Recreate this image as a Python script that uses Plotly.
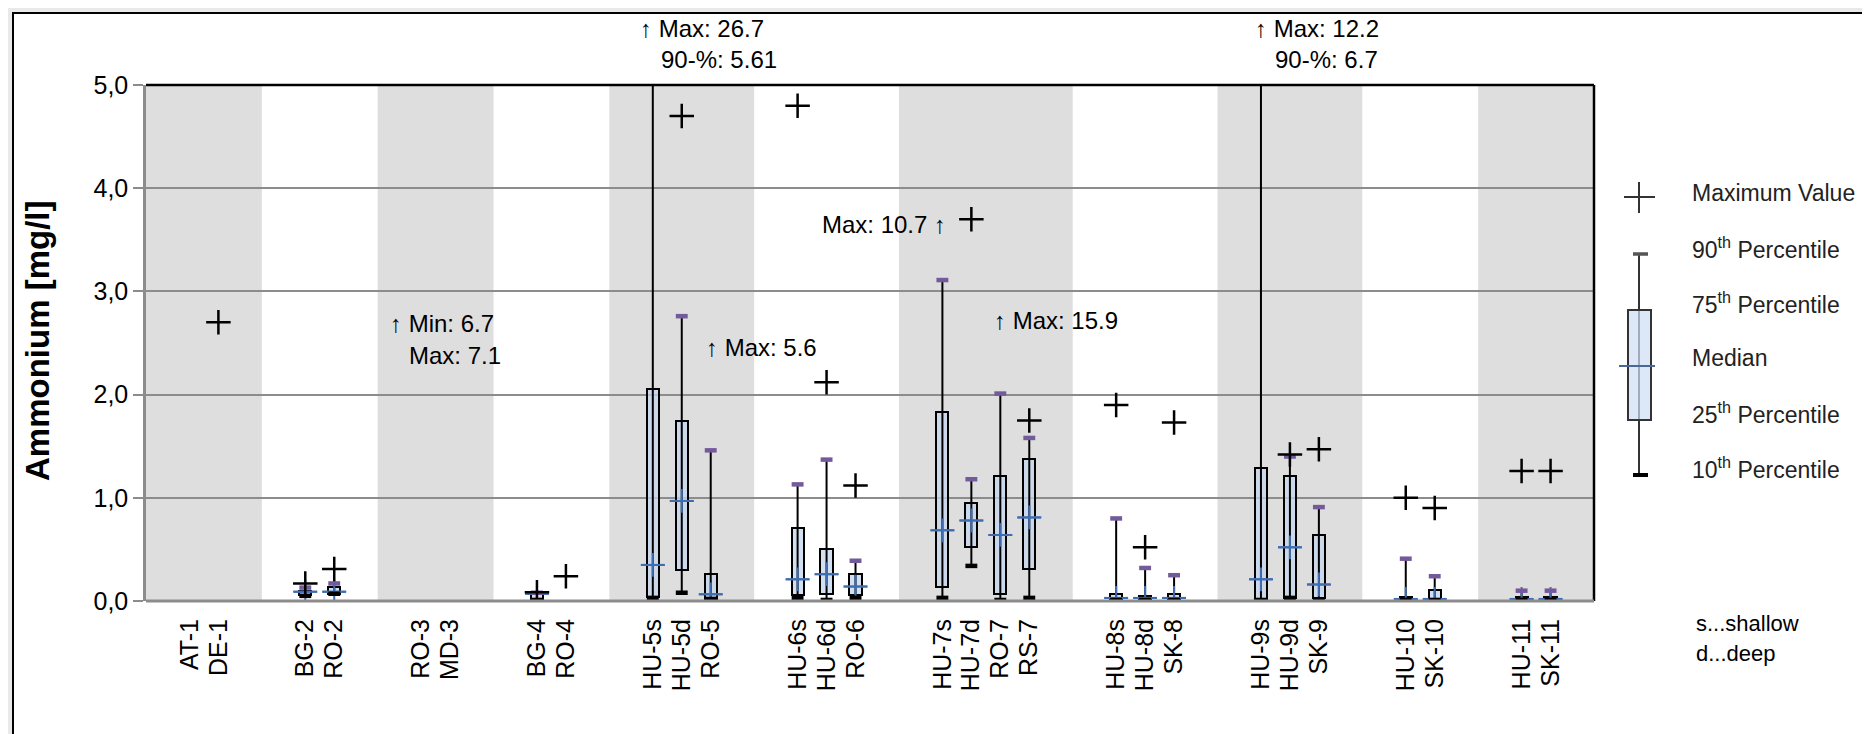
import plotly.graph_objects as go

# ---------------- data ----------------
groups = [["AT-1", "DE-1"], ["BG-2", "RO-2"], ["RO-3", "MD-3"], ["BG-4", "RO-4"],
          ["HU-5s", "HU-5d", "RO-5"], ["HU-6s", "HU-6d", "RO-6"],
          ["HU-7s", "HU-7d", "RO-7", "RS-7"], ["HU-8s", "HU-8d", "SK-8"],
          ["HU-9s", "HU-9d", "SK-9"], ["HU-10", "SK-10"], ["HU-11", "SK-11"]]
stations = [s for g in groups for s in g]

#        AT-1  DE-1  BG-2  RO-2  RO-3  MD-3  BG-4  RO-4  HU-5s HU-5d RO-5  HU-6s HU-6d RO-6  HU-7s HU-7d RO-7  RS-7  HU-8s HU-8d SK-8  HU-9s HU-9d SK-9  HU-10 SK-10 HU-11 SK-11
p10 = [None, None, 0.05, 0.07, None, None, 0.01, None, 0.03, 0.08, 0.02, 0.03, 0.01, 0.03, 0.03, 0.34, 0.01, 0.03, 0.01, 0.01, 0.01, 0.01, 0.03, 0.01, 0.01, 0.01, 0.01, 0.01]
p25 = [None, None, 0.06, 0.07, None, None, 0.02, None, 0.04, 0.30, 0.02, 0.055, 0.065, 0.055, 0.14, 0.52, 0.07, 0.31, 0.01, 0.01, 0.01, 0.01, 0.03, 0.03, 0.01, 0.01, 0.01, 0.01]
med = [None, None, 0.09, 0.09, None, None, 0.07, None, 0.35, 0.97, 0.065, 0.21, 0.26, 0.14, 0.685, 0.78, 0.64, 0.81, 0.03, 0.03, 0.03, 0.21, 0.52, 0.16, 0.02, 0.02, 0.02, 0.02]
p75 = [None, None, 0.10, 0.14, None, None, 0.08, None, 2.05, 1.74, 0.26, 0.71, 0.50, 0.26, 1.83, 0.95, 1.21, 1.38, 0.065, 0.05, 0.065, 1.29, 1.21, 0.64, 0.04, 0.11, 0.04, 0.04]
p90 = [None, None, 0.13, 0.17, None, None, 0.08, None, 5.61, 2.76, 1.46, 1.13, 1.37, 0.39, 3.11, 1.18, 2.01, 1.58, 0.80, 0.32, 0.25, 6.7, 1.40, 0.91, 0.41, 0.24, 0.10, 0.10]
vmax = [None, 2.7, 0.17, 0.31, 7.1, None, 0.085, 0.24, 26.7, 4.70, 5.6, 4.80, 2.12, 1.12, 10.7, 3.70, 15.9, 1.75, 1.90, 0.52, 1.73, 12.2, 1.42, 1.47, 1.00, 0.90, 1.26, 1.26]

y_ticks = [0, 1, 2, 3, 4, 5]
y_ticktext = ["0,0", "1,0", "2,0", "3,0", "4,0", "5,0"]

# off-scale notes: (text, left px, centre px)
notes = [("↑ Max: 26.7", 630, 20), ("90-%: 5.61", 651, 52),
         ("↑ Max: 12.2", 1245, 20), ("90-%: 6.7", 1265, 52),
         ("↑ Min: 6.7", 380, 315), ("Max: 7.1", 399, 347),
         ("↑ Max: 5.6", 696, 339), ("Max: 10.7 ↑", 812, 216),
         ("↑ Max: 15.9", 984, 312)]

legend_labels = ["Maximum Value", "90<sup>th</sup> Percentile", "75<sup>th</sup> Percentile",
                 "Median", "25<sup>th</sup> Percentile", "10<sup>th</sup> Percentile"]

# ---------------- geometry ----------------
W, H = 1870, 734
L, R, T, B = 138, 284, 77, 141
PW, PH = W - L - R, H - T - B


def fx(px):
    return (px - L) / PW


def fy(py):
    return (H - B - py) / PH


slot = {}
bands = []
pos = 0
for g in groups:
    start = pos
    pos += 1
    for s in g:
        slot[s] = pos
        pos += 1
    pos += 1
    bands.append((start - 0.5, pos - 0.5))
nslots = pos
xs = [slot[s] for s in stations]

GRID = "#8c8c8c"
BAND = "#dedede"
PURPLE = "#735a9b"
BLUE = "#3f6db0"
FONT = "Liberation Sans, Arial, sans-serif"

fig = go.Figure()


def pts(vals):
    px_, py_ = [], []
    for x, v in zip(xs, vals):
        if v is not None:
            px_.append(x)
            py_.append(v)
    return px_, py_


# whiskers
wx, wy = [], []
for x, a, b in zip(xs, p10, p90):
    if a is not None and b is not None:
        wx += [x, x, None]
        wy += [a, b, None]
fig.add_trace(go.Scatter(x=wx, y=wy, mode="lines", line=dict(color="black", width=2),
                         hoverinfo="skip"))

# median cross (vertical part shows only outside the boxes)
xm, ym = pts(med)
fig.add_trace(go.Scatter(x=xm, y=ym, mode="markers",
                         marker=dict(symbol="cross-thin", size=17,
                                     line=dict(color=BLUE, width=2))))

# boxes
bx, bh, bb = [], [], []
for x, a, b in zip(xs, p25, p75):
    if a is not None and b is not None:
        bx.append(x)
        bb.append(a)
        bh.append(b - a)
fig.add_trace(go.Bar(x=bx, y=bh, base=bb, width=0.42,
                     marker=dict(color="rgba(196,214,238,0.75)",
                                 line=dict(color="black", width=2))))

# median dash on top of the boxes
fig.add_trace(go.Scatter(x=xm, y=ym, mode="markers",
                         marker=dict(symbol="line-ew", size=17,
                                     line=dict(color=BLUE, width=2))))
# 90th caps
x9, y9 = pts(p90)
fig.add_trace(go.Scatter(x=x9, y=y9, mode="markers",
                         marker=dict(symbol="line-ew", size=8.5,
                                     line=dict(color=PURPLE, width=4.5))))
# 10th caps
x1, y1 = pts(p10)
fig.add_trace(go.Scatter(x=x1, y=y1, mode="markers",
                         marker=dict(symbol="line-ew", size=8.5,
                                     line=dict(color="black", width=4.5))))
# maximum
xx, yx = pts(vmax)
fig.add_trace(go.Scatter(x=xx, y=yx, mode="markers", cliponaxis=True,
                         marker=dict(symbol="cross-thin", size=17.5,
                                     line=dict(color="black", width=2.5))))

shapes = []
# outer frame
shapes.append(dict(type="rect", xref="paper", yref="paper",
                   x0=fx(5), x1=fx(1865), y0=fy(5), y1=fy(729),
                   fillcolor="white", line=dict(color="black", width=2), layer="below"))
# alternating bands
for i, (a, b) in enumerate(bands):
    if i % 2 == 0:
        shapes.append(dict(type="rect", xref="x", yref="paper", x0=a, x1=b, y0=0, y1=1,
                           fillcolor=BAND, line=dict(width=0), layer="below"))
# top and right border of plot area
shapes.append(dict(type="line", xref="paper", yref="paper", x0=0, x1=1, y0=1, y1=1,
                   line=dict(color="black", width=2.5)))
shapes.append(dict(type="line", xref="paper", yref="paper", x0=1, x1=1, y0=0, y1=1,
                   line=dict(color="black", width=2.5)))
# bottom axis line
shapes.append(dict(type="line", xref="paper", yref="paper", x0=0, x1=1, y0=0, y1=0,
                   line=dict(color=GRID, width=3)))

# legend drawing (pixel positions)
LC = "#333333"


def seg(x0, y0, x1, y1, color, width):
    return dict(type="line", xref="paper", yref="paper", x0=fx(x0), x1=fx(x1),
                y0=fy(y0), y1=fy(y1), line=dict(color=color, width=width))


LX = 1631
shapes += [seg(LX - 15, 189, LX + 16, 189, LC, 2), seg(LX, 174, LX, 205, LC, 2),
           seg(LX, 246, LX, 467, LC, 2)]
shapes.append(dict(type="rect", xref="paper", yref="paper", x0=fx(LX - 11), x1=fx(LX + 12),
                   y0=fy(302), y1=fy(412), fillcolor="rgba(205,221,243,0.7)",
                   line=dict(color=LC, width=2)))
shapes += [seg(LX - 20, 358, LX + 16, 358, "#4a6797", 2),
           seg(LX - 6, 246, LX + 9, 246, "#555555", 3.5),
           seg(LX - 6, 467, LX + 9, 467, "black", 4)]

annotations = []
for txt, lx, cy in notes:
    annotations.append(dict(text=txt, xref="paper", yref="paper", x=fx(lx), y=fy(cy),
                            xanchor="left", yanchor="middle", showarrow=False,
                            font=dict(size=24, color="black", family=FONT)))
for i, lab in enumerate(legend_labels):
    annotations.append(dict(text=lab, xref="paper", yref="paper", x=fx(1682),
                            y=fy(185 + i * 55), xanchor="left", yanchor="middle",
                            showarrow=False, font=dict(size=23, color="#222222", family=FONT)))
annotations.append(dict(text="s...shallow", xref="paper", yref="paper", x=fx(1686), y=fy(615),
                        xanchor="left", yanchor="middle", showarrow=False,
                        font=dict(size=22, color="black", family=FONT)))
annotations.append(dict(text="d...deep", xref="paper", yref="paper", x=fx(1686), y=fy(645),
                        xanchor="left", yanchor="middle", showarrow=False,
                        font=dict(size=22, color="black", family=FONT)))
annotations.append(dict(text="<b>Ammonium [mg/l]</b>", xref="paper", yref="paper",
                        x=fx(29), y=fy(333), xanchor="center", yanchor="middle",
                        textangle=-90, showarrow=False,
                        font=dict(size=33, color="black", family=FONT)))

fig.update_layout(
    width=W, height=H,
    margin=dict(l=L, r=R, t=T, b=B, pad=0),
    paper_bgcolor="#e9e9e9", plot_bgcolor="white",
    showlegend=False, bargap=0,
    shapes=shapes, annotations=annotations,
    font=dict(family=FONT, color="black"),
    xaxis=dict(range=[-0.5, nslots - 0.5], tickvals=xs, ticktext=stations,
               tickangle=-90, showgrid=False, zeroline=False,
               showline=False, ticks="", ticklabelstandoff=12,
               tickfont=dict(size=25, color="black", family=FONT)),
    yaxis=dict(range=[0, 5], tickvals=y_ticks, ticktext=y_ticktext,
               showgrid=True, gridcolor=GRID, gridwidth=2, zeroline=False,
               showline=True, linecolor=GRID, linewidth=2.5, mirror=False,
               ticks="outside", ticklen=10, tickwidth=2, tickcolor=GRID,
               tickfont=dict(size=25, color="black", family=FONT)),
)

fig.write_html("out.html")
